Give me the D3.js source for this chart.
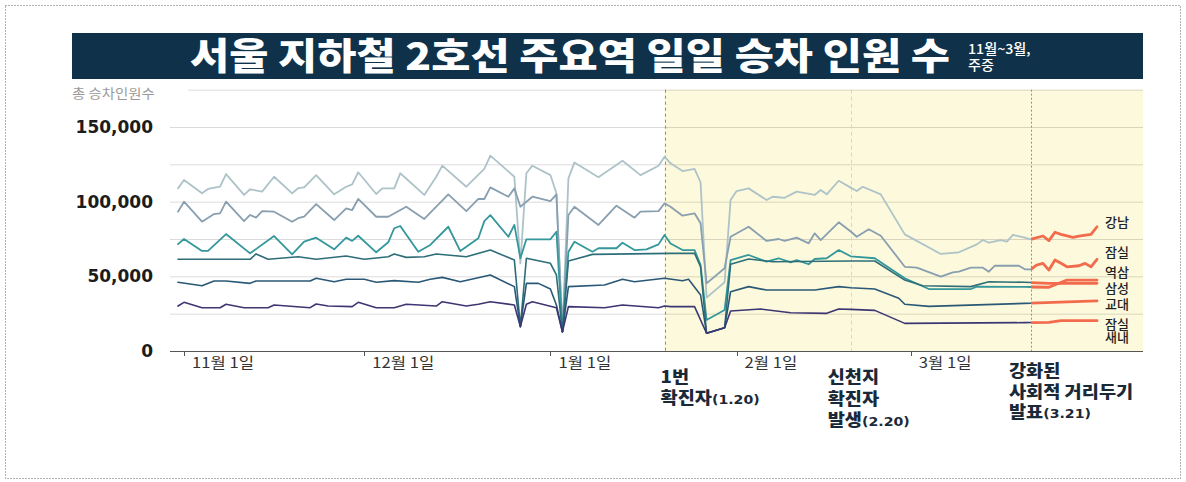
<!DOCTYPE html>
<html>
<head>
<meta charset="utf-8">
<script src="https://cdn.jsdelivr.net/npm/d3@7"></script>
<style>
  html, body { margin: 0; padding: 0; background: #fff; }
  svg { display: block; }
</style>
</head>
<body>
<svg id="chart" width="1186" height="482"></svg>
<script>
// ---- text ----
const titleText = "서울 지하철 2호선 주요역 일일 승차 인원 수";
const subtitleLines = ["11월~3월,", "주중"];
const yAxisTitle = "총 승차인원수";

// ---- axes ----
const yLabelValues = [0, 50000, 100000, 150000];
const yGridValues = [25000, 50000, 75000, 100000, 125000, 150000];
const yTopGridValue = 175000;
const xTickDates = ["11-01", "12-01", "01-01", "02-01", "03-01"];
const xTickLabels = ["11월 1일", "12월 1일", "1월 1일", "2월 1일", "3월 1일"];

// ---- stations (top to bottom) ----
const stationNames = ["강남", "잠실", "역삼", "삼성", "교대", "잠실새내"];

// daily weekday boardings, [month-day, riders]
const gangnam = [
  ["10-31",108900],["11-01",114500],["11-04",105600],["11-05",108500],["11-07",110000],["11-08",118500],
  ["11-11",104500],["11-12",108300],["11-14",106700],["11-16",116700],["11-19",105600],["11-20",109000],
  ["11-21",109600],["11-23",117800],["11-26",104900],["11-28",110000],["11-29",111600],["11-30",119700],
  ["12-03",105100],["12-04",108900],["12-06",108900],["12-07",119000],["12-11",104500],["12-13",116700],
  ["12-14",124100],["12-18",110000],["12-21",121900],["12-22",130800],["12-26",116700],
  ["12-27",58700],["12-28",119000],["12-29",124100],["01-01",117800],["01-02",105600],["01-03",12900],
  ["01-04",115600],["01-05",126300],["01-09",116300],["01-13",127400],["01-16",117800],["01-19",124100],
  ["01-20",130100],["01-21",125700],["01-23",120500],["01-25",121900],["01-26",113000],["01-27",35700],
  ["01-30",46000],["01-31",101100],["02-01",107100],["02-03",108900],["02-06",101100],["02-07",103300],
  ["02-09",102600],["02-11",106700],["02-14",104500],["02-15",107800],["02-16",104900],["02-18",114000],
  ["02-20",109400],["02-21",107100],["02-22",110000],["02-25",104900],["02-29",78100],["03-06",65000],
  ["03-09",66100],["03-12",71400],["03-13",74300],["03-14",72500],["03-16",74300],["03-17",73200],
  ["03-18",77700],["03-20",75900],["03-21",74800],["03-23",77000],["03-24",73900],["03-25",79500],
  ["03-26",78100],["03-28",76100],["03-29",77000],["03-31",78100],["04-01",83200]
];
const jamsil = [
  ["10-31",93300],["11-01",100000],["11-04",86600],["11-06",91700],["11-07",92200],["11-08",100000],
  ["11-11",87000],["11-12",91100],["11-13",89300],["11-14",93700],["11-16",93300],["11-19",86600],
  ["11-20",88900],["11-21",90000],["11-23",98400],["11-26",87700],["11-28",95500],["11-29",94400],
  ["11-30",101800],["12-03",89900],["12-05",89900],["12-08",96600],["12-11",88400],["12-15",104900],
  ["12-18",93700],["12-20",101800],["12-21",101800],["12-22",109600],["12-25",103300],["12-26",108900],
  ["12-27",96600],["12-29",103300],["01-01",100400],["01-02",104900],["01-03",12900],["01-04",91100],
  ["01-05",96600],["01-09",84400],["01-12",97300],["01-15",89300],["01-16",93300],["01-19",93700],
  ["01-20",98900],["01-21",96600],["01-23",90600],["01-25",92200],["01-26",85500],["01-27",45300],
  ["01-30",55400],["01-31",76500],["02-03",83200],["02-06",73700],["02-08",75000],["02-09",73700],
  ["02-11",75900],["02-13",72100],["02-14",78800],["02-15",74300],["02-18",86200],["02-20",80000],
  ["02-21",76500],["02-23",81500],["02-25",77200],["02-29",56400],["03-02",55800],["03-06",49800],
  ["03-08",52700],["03-09",53100],["03-11",55800],["03-13",55800],["03-14",53100],["03-15",57100],
  ["03-19",57100],["03-20",54700],["03-21",54700],["03-22",57600],["03-23",58700],["03-24",54200],
  ["03-25",60900],["03-26",58700],["03-27",56400],["03-29",57100],["03-30",58700],["03-31",56400],
  ["04-01",61400]
];
const yeoksam = [
  ["10-31",71600],["11-01",75000],["11-04",67000],["11-05",67000],["11-08",78300],["11-12",65400],
  ["11-16",77000],["11-19",64700],["11-21",73200],["11-23",75900],["11-26",68100],["11-28",75900],
  ["11-29",73700],["11-30",77200],["12-03",66100],["12-05",72800],["12-06",82200],["12-07",83700],
  ["12-10",66500],["12-12",71000],["12-15",83200],["12-17",66900],["12-20",75500],["12-21",87000],
  ["12-22",91000],["12-25",76500],["12-26",84400],["12-27",62100],["12-28",74800],["01-01",74800],
  ["01-02",79900],["01-03",12900],["01-04",66500],["01-05",73200],["01-08",66500],["01-09",68800],
  ["01-12",68800],["01-13",72500],["01-15",67600],["01-17",68100],["01-19",71400],["01-20",77700],
  ["01-21",72000],["01-23",67600],["01-25",67600],["01-26",57600],["01-27",20800],["01-30",27500],
  ["01-31",60900],["02-03",64300],["02-06",59800],["02-08",62100],["02-10",59400],["02-11",60900],
  ["02-13",58100],["02-14",61600],["02-16",62100],["02-18",67600],["02-20",63400],["02-24",62100],
  ["02-29",48700],["03-04",41500],["03-11",41500],["03-12",43100],["03-20",42900],["03-24",42700],
  ["03-27",47500],["04-01",47500]
];
const samsung = [
  ["10-31",61400],["11-12",61400],["11-13",65000],["11-15",61400],["11-20",63100],["11-23",61400],
  ["11-28",63600],["12-01",61400],["12-05",63100],["12-06",65000],["12-08",62700],["12-11",63100],
  ["12-13",65000],["12-18",63100],["12-22",67600],["12-26",60900],["12-27",16300],["12-28",62100],
  ["01-01",58700],["01-02",50900],["01-03",12900],["01-04",60300],["01-08",64700],["01-21",65400],
  ["01-25",65400],["01-26",56400],["01-27",11900],["01-30",15600],["01-31",58100],["02-03",61600],
  ["02-07",59800],["02-20",60300],["02-24",60300],["02-29",47500],["03-03",43700],["03-11",43100],
  ["03-14",46400],["03-20",46000],["03-24",45300],["04-01",45300]
];
const gyodae = [
  ["10-31",46000],["11-04",43700],["11-06",46900],["11-08",46900],["11-12",45300],["11-13",46900],
  ["11-22",46900],["11-23",48700],["11-26",46400],["11-28",48000],["12-01",48000],["12-03",46000],
  ["12-06",47100],["12-10",46000],["12-12",48000],["12-14",49300],["12-17",46400],["12-22",50900],
  ["12-26",43100],["12-27",16300],["12-28",45300],["12-30",45300],["01-01",41500],["01-02",30800],
  ["01-03",12900],["01-04",43100],["01-10",44200],["01-13",48000],["01-15",46400],["01-20",48700],
  ["01-23",47000],["01-24",48000],["01-26",37500],["01-27",11900],["01-30",15600],["01-31",39700],
  ["02-03",43100],["02-06",40800],["02-14",40800],["02-18",43100],["02-20",42400],["02-24",41500],
  ["02-28",35300],["02-29",31300],["03-04",29900],["03-20",31900],["04-01",33500]
];
const jamsilsaenae = [
  ["10-31",30100],["11-01",32600],["11-04",29000],["11-07",29000],["11-08",31300],["11-11",29000],
  ["11-15",29000],["11-16",30800],["11-22",29000],["11-23",31500],["11-25",30100],["11-29",29700],
  ["11-30",32600],["12-03",29000],["12-06",29000],["12-08",31300],["12-13",30100],["12-14",33000],
  ["12-18",30100],["12-20",31300],["12-22",33000],["12-26",30800],["12-27",16300],
  ["12-28",31300],["12-29",33000],["01-02",29000],["01-03",12900],["01-04",29700],["01-10",29000],
  ["01-13",30800],["01-19",29000],["01-20",30100],["01-21",29700],["01-25",29700],["01-27",11900],
  ["01-30",15600],["01-31",26800],["02-05",28100],["02-10",25600],["02-16",25200],["02-18",28100],
  ["02-20",27900],["02-24",27200],["02-29",18500],["03-20",19000],["03-24",19200],["03-26",20300],
  ["04-01",20300]
];

// ---- events ----
const eventDates = ["01-20", "02-20", "03-21"];
const eventLabels = [
  ["1번", "확진자(1.20)"],
  ["신천지", "확진자", "발생(2.20)"],
  ["강화된", "사회적 거리두기", "발표(3.21)"]
];

// ---- styling ----
const seriesColors = ["#adc3c8", "#889fb0", "#33979b", "#2d6e78", "#2a5876", "#3c3673"];
const seriesWidths = [1.8, 1.8, 1.8, 1.6, 1.6, 1.6];
const highlightColor = "#f26b4c";
const KR = "'Noto Sans CJK KR', 'Noto Sans', sans-serif";
const NUM = "'DejaVu Sans', sans-serif";
const SX = 1.11; // horizontal stretch of the Korean lettering

const parseDay = s => {
  const [m, d] = s.split("-").map(Number);
  return new Date(m >= 10 ? 2019 : 2020, m - 1, d);
};

const seriesData = [gangnam, jamsil, yeoksam, samsung, gyodae, jamsilsaenae]
  .map(arr => arr.map(([d, v]) => ({ date: parseDay(d), value: v })));

const svg = d3.select("#chart");
const W = 1186, H = 482;
const plotLeft = 170, plotRight = 1143;

const x = d3.scaleTime()
  .domain([parseDay("10-31"), parseDay("04-01")])
  .range([178, 1097]);
const y = d3.scaleLinear().domain([0, 150000]).range([351, 127]);

// text placed at (px, py), widened horizontally by sx
function label(parent, px, py, sx) {
  return parent.append("text")
    .attr("transform", `translate(${px},${py}) scale(${sx},1)`);
}

// outer dotted frame
svg.append("rect")
  .attr("x", 5.5).attr("y", 5.5).attr("width", W - 11).attr("height", H - 9)
  .attr("fill", "none").attr("stroke", "#666").attr("stroke-dasharray", "1,2");

// title bar
svg.append("rect")
  .attr("x", 72).attr("y", 33).attr("width", plotRight - 72).attr("height", 46)
  .attr("fill", "#0f3149");
svg.append("text")
  .attr("x", 190).attr("y", 70)
  .attr("font-family", KR).attr("font-weight", 900).attr("font-size", 37)
  .attr("textLength", 760).attr("lengthAdjust", "spacingAndGlyphs")
  .attr("fill", "#fff")
  .text(titleText);
const sub = label(svg, 968, 54, 1.05)
  .attr("font-family", KR).attr("font-weight", 500).attr("font-size", 13.5)
  .attr("fill", "#fff");
subtitleLines.forEach((t, i) => {
  sub.append("tspan").attr("x", 0).attr("y", i * 16).text(t);
});

// highlighted period after first case
const e = eventDates.map(parseDay);
svg.append("rect")
  .attr("x", x(e[0])).attr("y", y(yTopGridValue))
  .attr("width", plotRight - x(e[0])).attr("height", y(0) - y(yTopGridValue))
  .attr("fill", "#fdf9dc");

// grid
svg.append("g").selectAll("line").data(yGridValues).join("line")
  .attr("x1", plotLeft).attr("x2", plotRight)
  .attr("y1", d => y(d) + 0.5).attr("y2", d => y(d) + 0.5)
  .attr("stroke", "#000").attr("stroke-opacity", 0.14);
svg.append("line")
  .attr("x1", 188).attr("x2", plotRight)
  .attr("y1", y(yTopGridValue) + 0.5).attr("y2", y(yTopGridValue) + 0.5)
  .attr("stroke", "#000").attr("stroke-opacity", 0.14);

label(svg, 72, 98, SX)
  .attr("font-family", KR).attr("font-size", 13).attr("fill", "#9a9a9a")
  .text(yAxisTitle);

// y labels
svg.append("g").selectAll("text").data(yLabelValues).join("text")
  .attr("x", 153).attr("y", d => y(d) + 6)
  .attr("text-anchor", "end")
  .attr("font-family", NUM).attr("font-weight", "bold")
  .attr("font-size", 17).attr("fill", "#1c1c1c")
  .text(d => d3.format(",")(d));

// event lines
const eventStyles = [
  { stroke: "#8a8a8a", dash: "3,3" },
  { stroke: "#d5d5cf", dash: "4,3" },
  { stroke: highlightColor, dash: "2,2" }
];
e.forEach((d, i) => {
  svg.append("line")
    .attr("x1", Math.round(x(d)) + 0.5).attr("x2", Math.round(x(d)) + 0.5)
    .attr("y1", y(yTopGridValue)).attr("y2", y(0))
    .attr("stroke", eventStyles[i].stroke).attr("stroke-width", 1)
    .attr("stroke-dasharray", eventStyles[i].dash);
});

// clip regions before / after the stronger distancing announcement
const defs = svg.append("defs");
defs.append("clipPath").attr("id", "before")
  .append("rect").attr("x", 0).attr("y", 0).attr("width", x(e[2])).attr("height", H);
defs.append("clipPath").attr("id", "after")
  .append("rect").attr("x", x(e[2])).attr("y", 0).attr("width", W - x(e[2])).attr("height", H);

const line = d3.line().x(d => x(d.date)).y(d => y(d.value));

const gLines = svg.append("g").attr("fill", "none")
  .attr("stroke-linejoin", "round").attr("stroke-linecap", "round");
seriesData.forEach((s, i) => {
  gLines.append("path").datum(s)
    .attr("d", line).attr("clip-path", "url(#before)")
    .attr("stroke", seriesColors[i]).attr("stroke-width", seriesWidths[i]);
});
seriesData.forEach((s, i) => {
  gLines.append("path").datum(s)
    .attr("d", line).attr("clip-path", "url(#after)")
    .attr("stroke", highlightColor).attr("stroke-width", 2.8);
});

// x axis
svg.append("line")
  .attr("x1", plotLeft).attr("x2", plotRight)
  .attr("y1", y(0) + 0.5).attr("y2", y(0) + 0.5)
  .attr("stroke", "#555");
const ticks = xTickDates.map(parseDay);
svg.append("g").selectAll("line").data(ticks).join("line")
  .attr("x1", d => Math.round(x(d)) + 0.5).attr("x2", d => Math.round(x(d)) + 0.5)
  .attr("y1", y(0)).attr("y2", y(0) + 5)
  .attr("stroke", "#555");
ticks.forEach((d, i) => {
  label(svg, x(d) + 8, 368, SX)
    .attr("font-family", KR).attr("font-size", 15).attr("fill", "#333")
    .text(xTickLabels[i]);
});

// station labels at line ends
const labelOffsets = [-4, -7, -8, 5, 4, 4];
const labelLines = stationNames.map(n => n.length > 2 ? [n.slice(0, 2), n.slice(2)] : [n]);
seriesData.forEach((s, i) => {
  const last = s[s.length - 1];
  const t = svg.append("text")
    .attr("transform", `translate(1105,${y(last.value) + labelOffsets[i] + 4.5})`)
    .attr("font-family", KR).attr("font-weight", 500).attr("font-size", 13)
    .attr("fill", "#222");
  labelLines[i].forEach((str, j) => {
    t.append("tspan").attr("x", 0).attr("y", j * 12.5).text(str);
  });
});

// event annotations
const annoLayout = [
  { dx: -4, top: 383, lh: 21 },
  { dx: -23, top: 383, lh: 21.5 },
  { dx: -22, top: 377, lh: 20.7 }
];
eventLabels.forEach((lines, i) => {
  const L = annoLayout[i];
  lines.forEach((t, j) => {
    const txt = label(svg, x(e[i]) + L.dx, L.top + j * L.lh, 1.13)
      .attr("font-family", KR).attr("font-weight", 900).attr("font-size", 16.5)
      .attr("fill", "#1a2938");
    const k = t.indexOf("(");
    if (k >= 0) {
      txt.append("tspan").text(t.slice(0, k));
      txt.append("tspan").attr("font-family", NUM).attr("font-weight", "bold")
        .attr("font-size", 12.5).text(t.slice(k));
    } else {
      txt.text(t);
    }
  });
});
</script>
</body>
</html>
